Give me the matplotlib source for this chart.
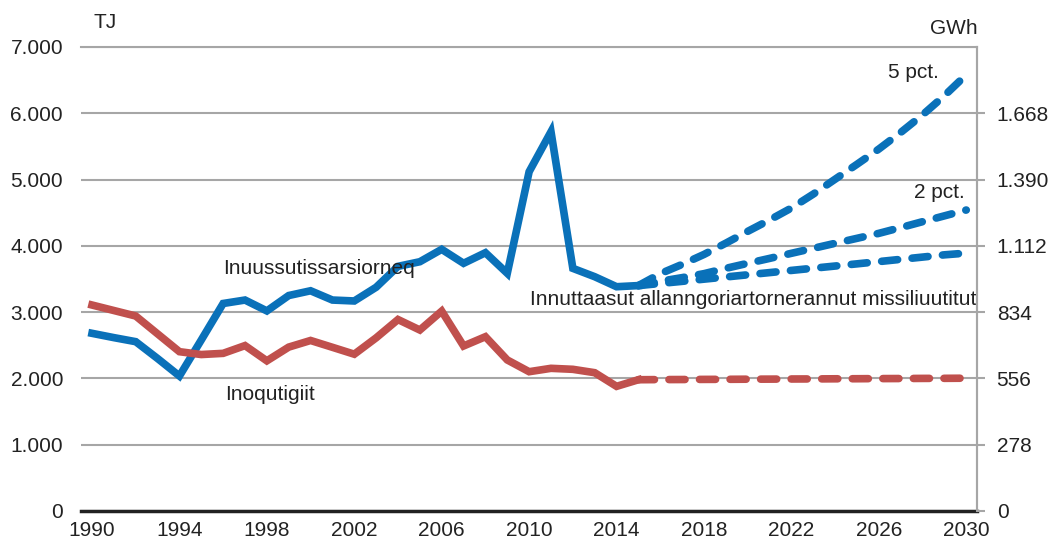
import matplotlib
matplotlib.use("Agg")
import matplotlib.pyplot as plt

plt.rcParams['font.family'] = ['Liberation Sans', 'DejaVu Sans']

# ---- data (TJ) ----
hist_years = list(range(1990, 2016))
business = [2680, 2615, 2554, 2300, 2036, 2580, 3130, 3182, 3018, 3250, 3322, 3182,
            3168, 3375, 3690, 3760, 3947, 3736, 3896, 3585, 5118, 5721, 3660, 3534,
            3383, 3400]
households = [3107, 3024, 2941, 2672, 2403, 2360, 2378, 2495, 2265, 2472, 2572, 2469,
              2365, 2612, 2888, 2730, 3015, 2489, 2629, 2278, 2101, 2152, 2137, 2086,
              1880, 1980]

proj_years = list(range(2015, 2031))
proj_pop = [3400, 3432, 3464, 3497, 3530, 3563, 3596, 3629, 3662, 3695, 3728, 3762,
            3796, 3830, 3864, 3890]
proj_2pct = [3400, 3465, 3520, 3580, 3660, 3736, 3810, 3887, 3962, 4038, 4113, 4188,
             4275, 4364, 4452, 4540]
proj_5pct = [3400, 3580, 3720, 3870, 4040, 4218, 4390, 4570, 4780, 5005, 5230, 5460,
             5710, 5975, 6265, 6580]
proj_house = [1980, 1982, 1983, 1985, 1986, 1988, 1989, 1991, 1992, 1994, 1995, 1997,
              1998, 2000, 2001, 2003]

left_ticks = [0, 1000, 2000, 3000, 4000, 5000, 6000, 7000]
left_labels = ['0', '1.000', '2.000', '3.000', '4.000', '5.000', '6.000', '7.000']
right_ticks = [0, 1000, 2000, 3000, 4000, 5000, 6000]
right_labels = ['0', '278', '556', '834', '1.112', '1.390', '1.668']
x_ticks = list(range(1990, 2031, 4))

BLUE = '#0A71B9'
RED = '#C0504D'
GRID = '#A6A6A6'
TXT = '#222222'
FS = 15

fig = plt.figure(figsize=(10.53, 5.44), dpi=100)
ax = fig.add_axes([0.077, 0.0607, 0.851, 0.853])

lw = 5.5
dash = (0, (2.1, 1.9))
ax.plot(hist_years, business, color=BLUE, lw=lw, solid_joinstyle='miter', zorder=3)
ax.plot(hist_years, households, color=RED, lw=lw, solid_joinstyle='miter', zorder=3)
for ys, c in [(proj_5pct, BLUE), (proj_2pct, BLUE), (proj_pop, BLUE), (proj_house, RED)]:
    ax.plot(proj_years, ys, color=c, lw=lw, linestyle=dash, dash_capstyle='round', zorder=3)

ax.set_xlim(1989.5, 2030.5)
ax.set_ylim(0, 7000)
ax.set_yticks(left_ticks)
ax.set_yticklabels(left_labels)
ax.set_xticks(x_ticks)
ax.set_xticklabels([str(x) for x in x_ticks])
ax.yaxis.grid(True, color=GRID, lw=1.5)
ax.set_axisbelow(True)
ax.tick_params(axis='y', length=0, labelsize=FS, pad=13, colors=TXT)
ax.tick_params(axis='x', length=0, labelsize=FS, pad=7, colors=TXT)

ax.spines['left'].set_visible(False)
ax.spines['top'].set_color(GRID)
ax.spines['top'].set_linewidth(1.5)
ax.spines['right'].set_color(GRID)
ax.spines['right'].set_linewidth(1.5)
ax.spines['bottom'].set_color(TXT)
ax.spines['bottom'].set_linewidth(2.5)

ax2 = ax.twinx()
ax2.set_ylim(0, 7000)
ax2.set_yticks(right_ticks)
ax2.set_yticklabels(right_labels)
ax2.tick_params(axis='y', length=6, width=1.5, color=GRID, labelsize=FS, pad=8,
                labelcolor=TXT)
for s in ['left', 'top', 'bottom']:
    ax2.spines[s].set_visible(False)
ax2.spines['right'].set_color(GRID)
ax2.spines['right'].set_linewidth(1.5)

tk = dict(fontsize=FS, color=TXT, va='center', ha='left', zorder=4)
ax.text(1996.0, 3665, 'Inuussutissarsiorneq', **tk)
ax.text(1996.1, 1760, 'Inoqutigiit', **tk)
ax.text(2010.05, 3190, 'Innuttaasut allanngoriartornerannut missiliuutitut', **tk)
ax.text(2026.4, 6620, '5 pct.', **tk)
ax.text(2027.6, 4800, '2 pct.', **tk)

fig.text(93 / 1053, 1 - 22 / 544, 'TJ', fontsize=FS, color=TXT, va='center', ha='left')
fig.text(930 / 1053, 1 - 28 / 544, 'GWh', fontsize=FS, color=TXT, va='center', ha='left')

fig.savefig('out.png', dpi=100)
